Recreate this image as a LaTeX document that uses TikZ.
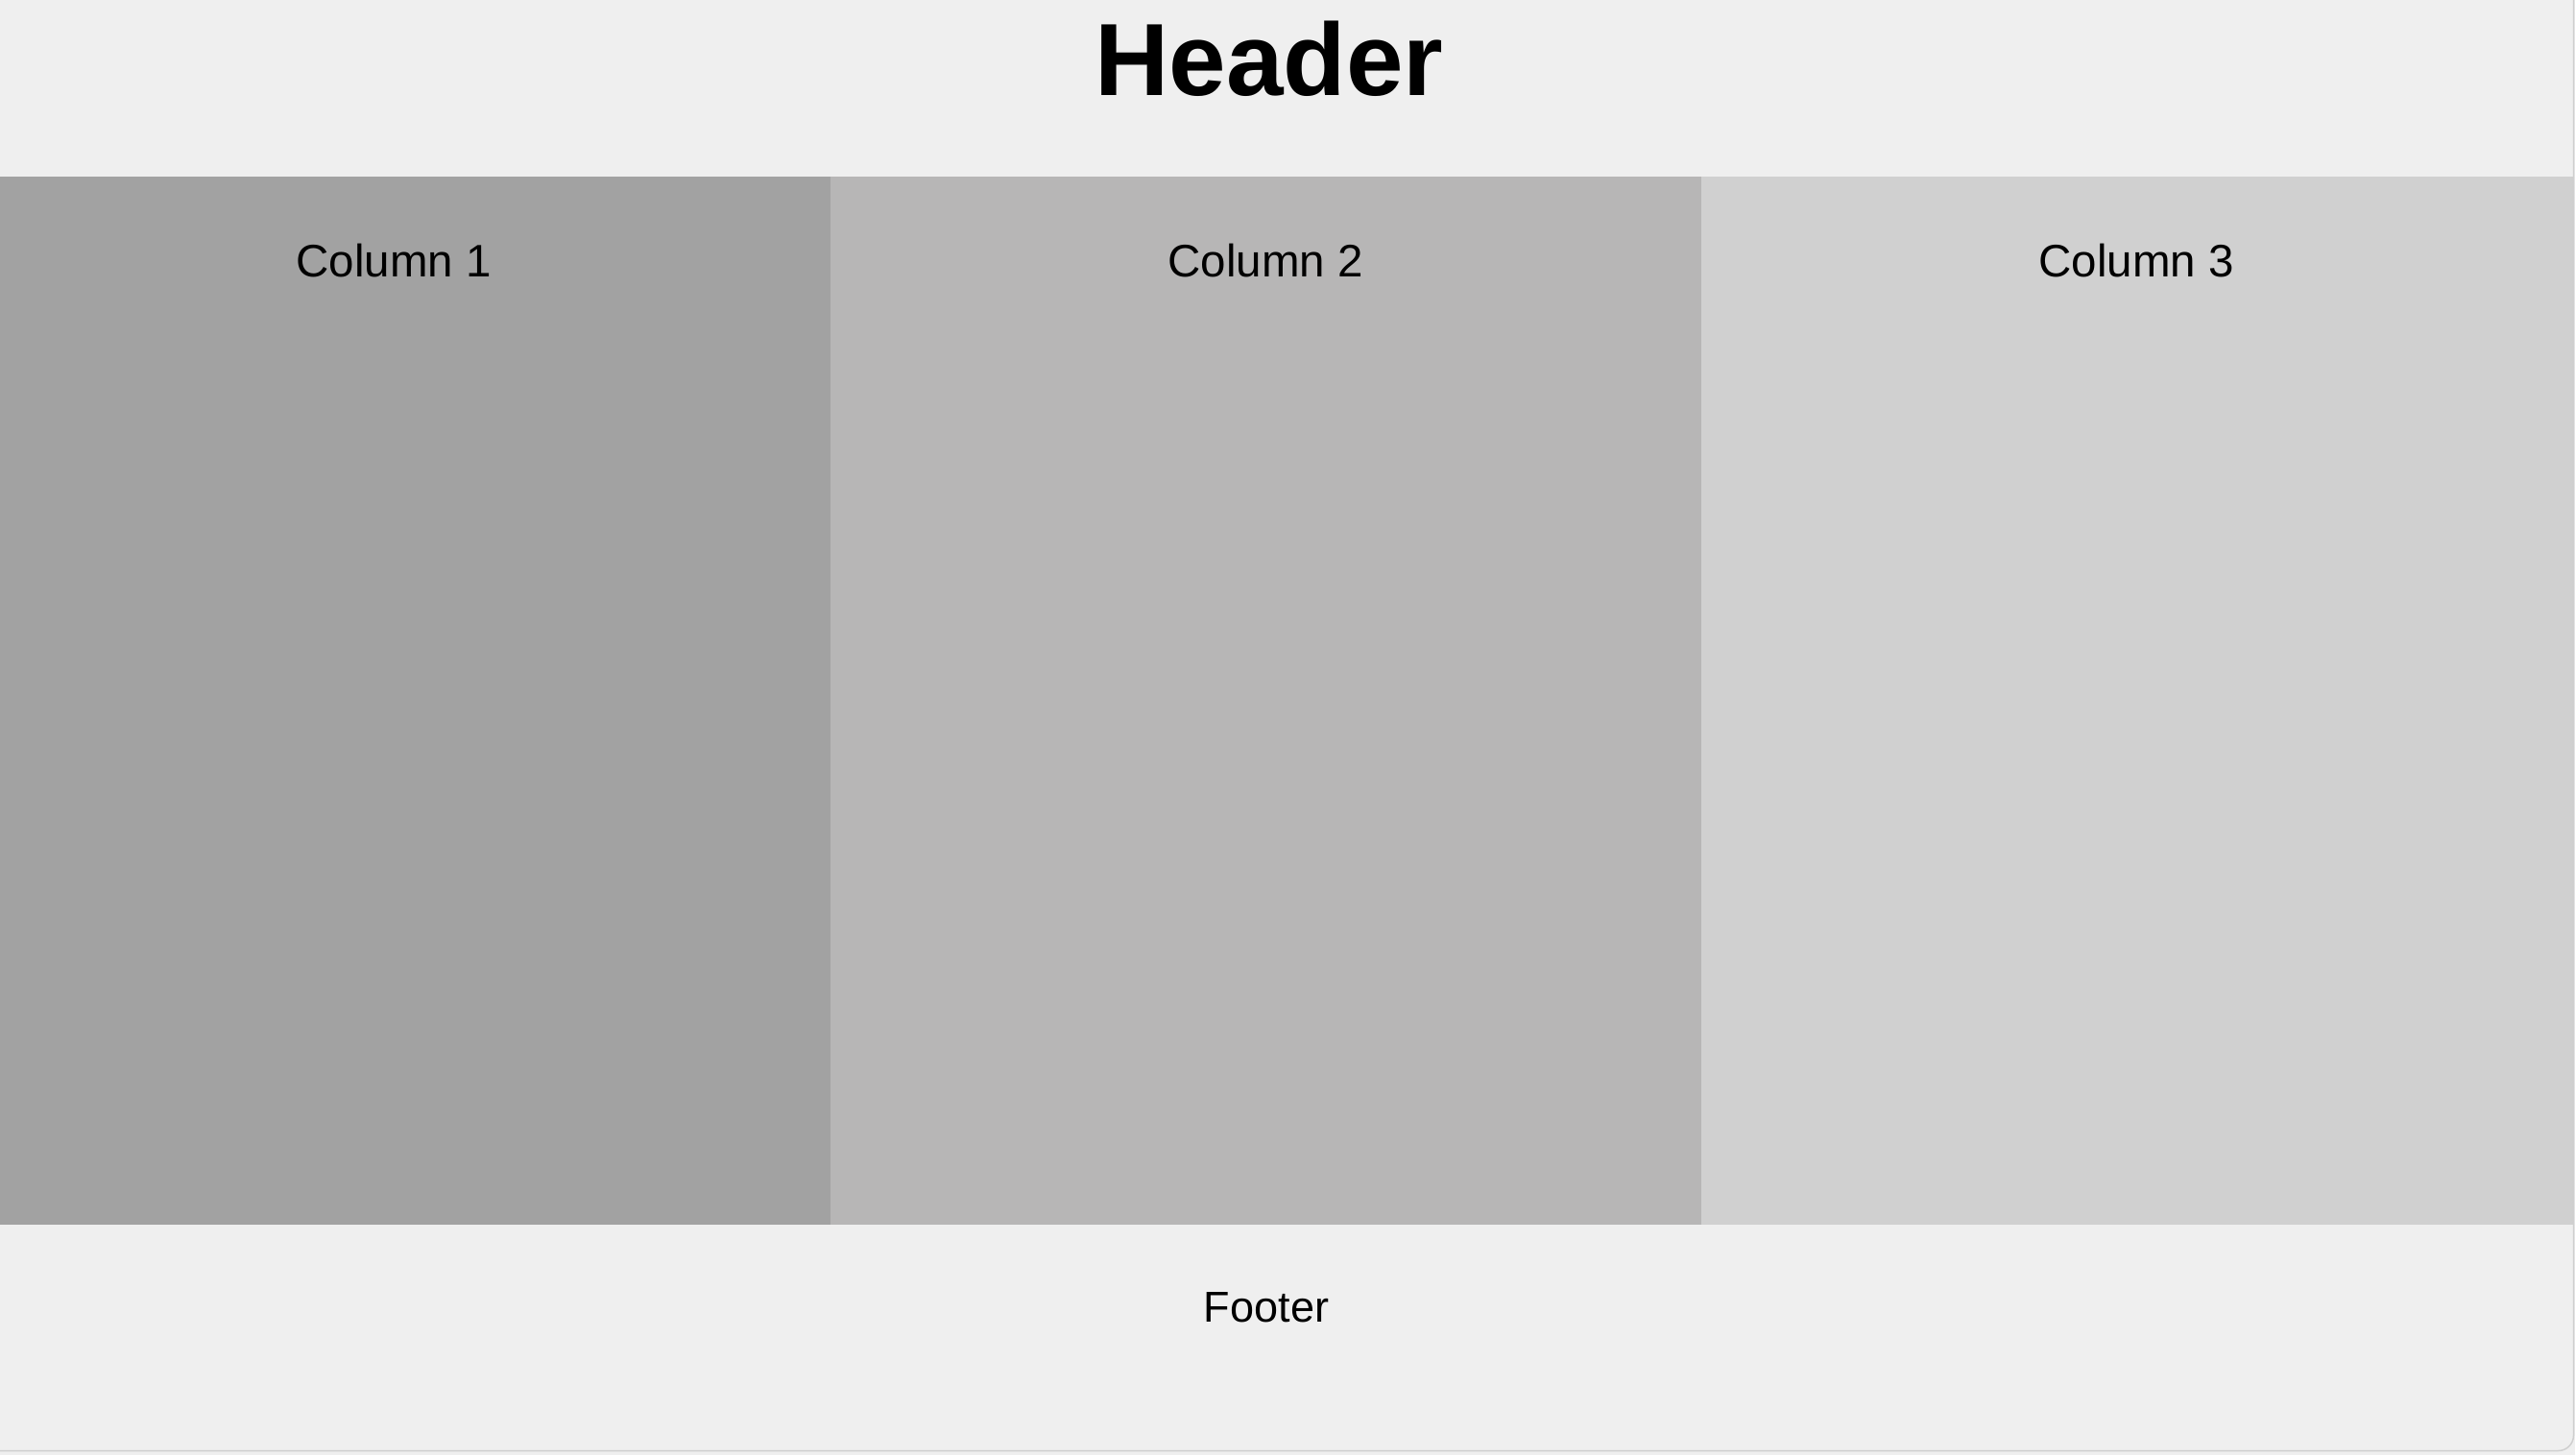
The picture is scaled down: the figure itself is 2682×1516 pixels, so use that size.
\documentclass[tikz,border=0pt]{standalone}
\usepackage{fontspec}
\setmainfont{Liberation Sans}
\definecolor{bg}{HTML}{EFEFEF}
\definecolor{cA}{HTML}{A2A2A2}
\definecolor{cB}{HTML}{B7B6B6}
\definecolor{cC}{HTML}{D0D0D0}
\definecolor{frame}{HTML}{CFCFCF}
\begin{document}
\begin{tikzpicture}[x=1pt,y=-1pt,
  coltext/.style={anchor=base,inner sep=0pt,font=\fontsize{47.5}{57}\selectfont}]
\useasboundingbox (0,0) rectangle (2682,1516);
\fill[bg] (0,0) rectangle (2682,1516);
\fill[cA] (0,184) rectangle (865,1276);
\fill[cB] (865,184) rectangle (1772,1276);
\fill[cC] (1772,184) rectangle (2680,1276);
\draw[frame,line width=1.5pt,rounded corners=16pt] (2680.5,0) -- (2680.5,1511.5) -- (0,1511.5);
\node[anchor=base,inner sep=0pt,font=\fontsize{107}{120}\selectfont\bfseries] (header) at (1322,99) {Header};
\node[coltext] (c1) at (410,288) {Column 1};
\node[coltext] (c2) at (1318,288) {Column 2};
\node[coltext] (c3) at (2225,288) {Column 3};
\node[anchor=base,inner sep=0pt,font=\fontsize{45}{54}\selectfont] (footer) at (1319,1377) {Footer};
\end{tikzpicture}
\end{document}
